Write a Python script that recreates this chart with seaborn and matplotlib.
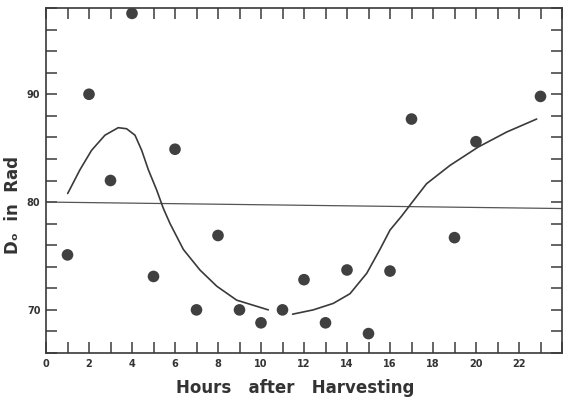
import numpy as np
import pandas as pd
import matplotlib
matplotlib.use("Agg")
import matplotlib.pyplot as plt
from matplotlib.ticker import MultipleLocator
import seaborn as sns

# Observed points
hours = [1, 2, 3, 4, 5, 6, 7, 8, 9, 10, 11, 12, 13, 14, 15, 16, 17, 19, 20, 23]
d0 = [75.1, 90.0, 82.0, 97.5, 73.1, 84.9, 70.0, 76.9, 70.0, 68.8, 70.0, 72.8,
      68.8, 73.7, 67.8, 73.6, 87.7, 76.7, 85.6, 89.8]

# Hand-drawn fitted curve, first segment
curve1_x = [1.01, 1.58, 2.12, 2.74, 3.36, 3.75, 4.14, 4.45, 4.76, 5.15, 5.46,
            5.77, 6.39, 7.16, 7.94, 8.87, 10.34]
curve1_y = [80.8, 83.0, 84.8, 86.2, 86.9, 86.8, 86.2, 84.8, 83.0, 81.1, 79.4,
            78.0, 75.6, 73.7, 72.2, 70.9, 70.0]
# second segment
curve2_x = [11.47, 12.43, 13.36, 14.14, 14.92, 15.53, 16.0, 16.54, 17.0, 17.7,
            18.79, 20.1, 21.43, 22.82]
curve2_y = [69.6, 70.0, 70.6, 71.5, 73.4, 75.6, 77.4, 78.7, 79.9, 81.7,
            83.4, 85.1, 86.5, 87.7]

# Reference line
ref_x = [0, 24]
ref_y = [80.0, 79.4]

xtick_vals = list(range(0, 23, 2))
ytick_vals = [70, 80, 90]

sns.set_style("ticks")
plt.rcParams['font.family'] = ['DejaVu Sans']

fig = plt.figure(figsize=(5.64, 4.08), dpi=100)
ax = fig.add_axes([46/564, 55/408, 516/564, 345/408])

ink = "#3a3a3a"
sns.lineplot(x=ref_x, y=ref_y, ax=ax, color="#555555", linewidth=0.9, sort=False)
sns.lineplot(x=curve1_x, y=curve1_y, ax=ax, color=ink, linewidth=1.2, sort=False)
sns.lineplot(x=curve2_x, y=curve2_y, ax=ax, color=ink, linewidth=1.2, sort=False)
sns.scatterplot(x=hours, y=d0, ax=ax, color="#404040", s=70, edgecolor="none", zorder=5)

ax.set_xlim(0, 24)
ax.set_ylim(66, 98)
ax.set_xticks(xtick_vals)
ax.set_yticks(ytick_vals)
ax.xaxis.set_minor_locator(MultipleLocator(1))
ax.yaxis.set_minor_locator(MultipleLocator(2))
ax.tick_params(which="both", direction="in", top=True, right=True, length=8,
               width=1.1, color=ink)
ax.tick_params(axis="both", which="major", labelsize=7, labelcolor="#333333", pad=4)
for lab in ax.get_xticklabels() + ax.get_yticklabels():
    lab.set_fontweight("bold")
for sp in ax.spines.values():
    sp.set_linewidth(1.2)
    sp.set_color(ink)

ax.set_xlabel("Hours   after   Harvesting", fontsize=12, fontweight="bold",
              color="#333333")
ax.xaxis.set_label_coords(0.483, -0.101)
ax.xaxis.label.set_va("center")
ax.set_ylabel("D\u2092  in  Rad", fontsize=12, fontweight="bold", color="#333333")
ax.yaxis.set_label_coords(-0.064, 0.429)
ax.yaxis.label.set_va("center")

fig.savefig("out.png", dpi=100)
